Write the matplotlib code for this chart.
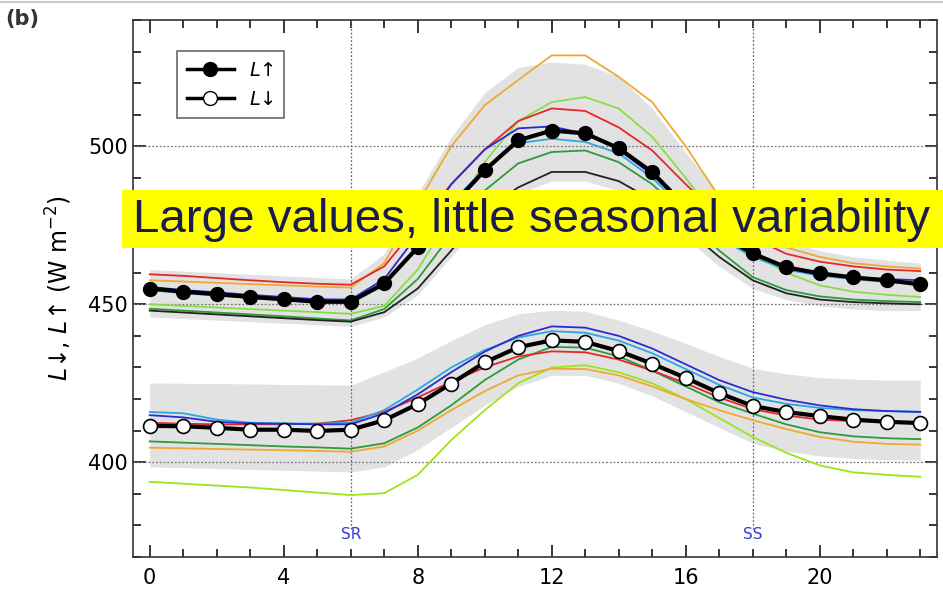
import numpy as np
import matplotlib
matplotlib.use("Agg")
import matplotlib.pyplot as plt
from matplotlib.patches import Rectangle
from matplotlib.lines import Line2D
from matplotlib.ticker import MultipleLocator

hours = list(range(24))

# outgoing longwave (L up): composite mean and per-period curves
lup_mean = [455.0, 454.0, 453.2, 452.3, 451.6, 450.8, 450.8, 456.6, 468.0, 481.0, 492.4, 501.9,
            505.0, 504.1, 499.4, 491.8, 481.0, 472.0, 466.1, 461.7, 459.8, 458.5, 457.6, 456.3]
lup_hi = [461, 460.5, 460, 459.5, 459, 458.5, 458, 466, 485, 503, 517, 525,
          526.7, 526, 522, 512, 498, 485, 476, 470, 467, 465, 464, 463]
lup_lo = [446, 445.5, 445, 444.5, 444, 443.5, 443, 446, 453, 465, 477, 485,
          489, 489, 486, 480, 471, 462, 455, 451.5, 449.5, 448.5, 448, 448]
lup_lines = {
    "#f0a830": [457.6, 457.2, 456.8, 456.4, 456, 455.6, 455.3, 463, 482, 500, 513, 521,
                528.8, 528.8, 522, 514, 500, 484, 474, 468, 465, 463, 462, 461.3],
    "#86de45": [450, 449.5, 449, 448.5, 448, 447.5, 447, 449.5, 461, 478, 495, 508,
                514, 515.6, 512, 503, 490, 476, 466, 460, 456, 454, 453, 452.3],
    "#e8262a": [459.5, 459, 458.3, 457.6, 457, 456.5, 456.2, 462, 475, 488, 499, 508,
                512, 511.2, 506, 498.7, 488, 478, 471, 466, 463.5, 462, 461, 460.5],
    "#29a8e0": [454.5, 453.5, 452.8, 452, 451.3, 450.6, 450.5, 456, 468, 482, 493, 501,
                502.4, 501.4, 497.8, 490, 480, 471, 465, 461, 459, 458, 457, 456.5],
    "#2b2bd0": [455.5, 454.5, 453.8, 453, 452.3, 451.6, 451.5, 458, 472, 488, 499, 505.7,
                506.3, 504, 499, 491, 481, 472, 466, 461.5, 459.5, 458.5, 458, 457.6],
    "#2e9a3a": [448.6, 448, 447.4, 446.8, 446.2, 445.5, 444.9, 448.5, 458, 472, 486, 494.6,
                498.2, 498.7, 495, 488, 478, 467, 458.6, 454.5, 452.5, 451.5, 451, 450.7],
    "#222222": [448, 447.4, 446.8, 446.2, 445.6, 445, 444.5, 447.5, 455, 467, 480, 487,
                491.9, 491.9, 489, 483, 474, 465, 457.6, 453.5, 451.5, 450.7, 450.3, 450],
}

# incoming longwave (L down)
ldn_mean = [411.5, 411.4, 410.9, 410.3, 410.3, 409.9, 410.3, 413.3, 418.4, 424.9, 431.6, 436.4,
            438.6, 438.1, 435.2, 431.2, 426.7, 421.9, 417.8, 415.9, 414.6, 413.5, 412.8, 412.4]
ldn_hi = [425.1, 425, 424.9, 424.8, 424.6, 424.5, 424.4, 428.6, 433, 438.5, 443.5, 447,
          448.1, 447.8, 445, 441.5, 437.6, 433.5, 429.7, 428, 426.8, 426.3, 426, 426]
ldn_lo = [398.5, 398.3, 398, 397.7, 397.5, 397.2, 396.9, 398.5, 404, 411, 418, 424,
          427.5, 427.5, 425, 421, 416, 411, 406, 403.5, 402, 401.2, 400.8, 400.6]
ldn_lines = {
    "#9be51d": [393.8, 393.2, 392.6, 392, 391.2, 390.4, 389.6, 390.2, 396, 407, 416.5, 425,
                430, 430.7, 428.5, 425, 420, 414, 408, 403, 399, 396.8, 396, 395.4],
    "#f0a830": [404.6, 404.4, 404.2, 404, 403.8, 403.6, 403.3, 405, 410, 416.5, 422.5, 427.5,
                429.6, 429.5, 427.5, 424, 420, 416.5, 413.3, 410.5, 408, 406.5, 405.8, 405.6],
    "#2e9a3a": [406.6, 406.2, 405.8, 405.4, 405, 404.7, 404.3, 406, 411, 418, 426, 432.5,
                436.5, 436.3, 433.5, 429, 424, 419, 415.4, 412, 409.5, 408.2, 407.6, 407.3],
    "#e8262a": [412.5, 412.2, 412, 412, 412, 412.2, 413.3, 416, 420.5, 425.5, 430, 433.5,
                435.1, 434.8, 432.5, 429, 425, 420.5, 416.8, 414.8, 413.5, 413, 412.8, 412.6],
    "#29a8e0": [415.9, 415.5, 413.5, 412.5, 412.3, 412.2, 412.5, 416.5, 423, 430, 435.5, 439.5,
                441.5, 441, 438.5, 434.5, 429.5, 424.5, 420.5, 418.5, 417.2, 416.5, 416.2, 416],
    "#2b2bd0": [414.9, 414.2, 412.8, 412.3, 412.2, 412, 412, 415.5, 421.5, 428.5, 435, 440,
                443, 442.6, 440, 436, 431, 426, 422.2, 419.8, 418, 416.8, 416.2, 415.9],
}

sunrise, sunset = 6, 18

fig = plt.figure(figsize=(9.43, 5.97), dpi=100)
ax = fig.add_axes([0.141, 0.067, 0.8526, 0.8995])

ax.fill_between(hours, lup_lo, lup_hi, color="#e2e2e2", lw=0, zorder=1)
ax.fill_between(hours, ldn_lo, ldn_hi, color="#e2e2e2", lw=0, zorder=1)

for yv in (400, 450, 500):
    ax.axhline(yv, color="#777777", ls=(0, (1.5, 1.5)), lw=0.9, zorder=2)
for xv, lab in ((sunrise, "SR"), (sunset, "SS")):
    ax.axvline(xv, ymin=(379 - 370) / 170, color="#5a5ae0", ls=(0, (1.5, 1.5)), lw=0.9, zorder=2)
    ax.text(xv, 377, lab, color="#3a3ad0", fontsize=11, ha="center", va="center")

for col, vals in lup_lines.items():
    ax.plot(hours, vals, color=col, lw=1.3, zorder=3)
for col, vals in ldn_lines.items():
    ax.plot(hours, vals, color=col, lw=1.3, zorder=3)

ax.plot(hours, lup_mean, "-o", color="black", lw=3, ms=10, mfc="black", mec="black", zorder=5)
ax.plot(hours, ldn_mean, "-o", color="black", lw=3, ms=10, mfc="white", mec="black", mew=1.2, zorder=5)

ax.set_xlim(-0.5, 23.5)
ax.set_ylim(370, 540)
ax.xaxis.set_major_locator(MultipleLocator(4))
ax.xaxis.set_minor_locator(MultipleLocator(1))
ax.yaxis.set_major_locator(MultipleLocator(50))
ax.yaxis.set_minor_locator(MultipleLocator(10))
ax.tick_params(which="both", direction="in", top=True, right=True, width=1.1, labelsize=15)
ax.tick_params(which="major", length=9)
ax.tick_params(which="minor", length=6)
ax.tick_params(axis="x", pad=8)
for sp in ax.spines.values():
    sp.set_linewidth(1.2)
    sp.set_color("#333333")

ax.set_ylabel(r"$L$↓, $L$↑ (W m$^{-2}$)", fontsize=17, labelpad=10)

handles = [
    Line2D([], [], color="black", lw=2.5, marker="o", ms=10, mfc="black"),
    Line2D([], [], color="black", lw=2.5, marker="o", ms=10, mfc="white"),
]
leg = ax.legend(handles, [r"$L$↑", r"$L$↓"], loc="upper left", bbox_to_anchor=(0.043, 0.96),
                fontsize=14, frameon=True, fancybox=False, handlelength=2.4, borderpad=0.5,
                labelspacing=0.5)
leg.get_frame().set_edgecolor("#333333")
leg.get_frame().set_linewidth(1.1)

fig.text(0.006, 0.985, "(b)", fontsize=15, fontweight="bold", ha="left", va="top", color="#333333")
fig.add_artist(Line2D([0, 1], [0.997, 0.997], color="#cccccc", lw=1.5))

# highlighted note across the upper band
fig.add_artist(Rectangle((0.1294, 0.5846), 0.8706, 0.0971, transform=fig.transFigure,
                         facecolor="#ffff00", edgecolor="none", zorder=10))
fig.text(0.141, 0.631, "Large values, little seasonal variability", fontsize=34.2,
         family="Liberation Sans", color="#1c1c4c", ha="left", va="center", zorder=11)

fig.savefig("out.png", dpi=100, facecolor="white")
